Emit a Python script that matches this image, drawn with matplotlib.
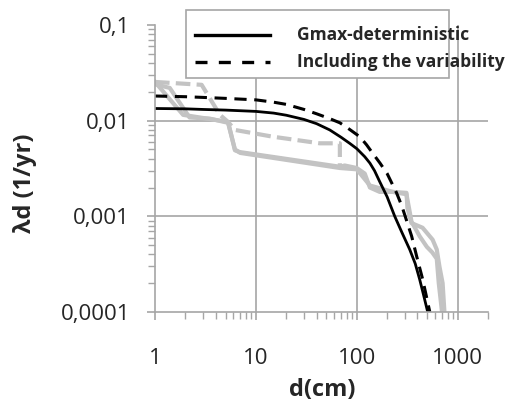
import matplotlib
matplotlib.use("Agg")
import matplotlib.pyplot as plt
from matplotlib.patches import Rectangle
from matplotlib.lines import Line2D
from matplotlib.ticker import LogLocator, FixedLocator, FixedFormatter, NullFormatter

plt.rcParams['font.family'] = ['Open Sans', 'DejaVu Sans']

# deterministic Gmax hazard curve
det_d = [1, 2, 3, 5, 10, 15, 20, 30, 40, 54, 70, 85, 100, 120, 135, 150, 169,
         200, 238, 280, 335, 380, 420, 460, 505]
det_lam = [0.0134, 0.0133, 0.0131, 0.0129, 0.0125, 0.0120, 0.0114, 0.0103,
           0.0093, 0.0080, 0.0067, 0.0058, 0.0051, 0.0042, 0.0036, 0.0030,
           0.0023, 0.0016, 0.0010, 0.00068, 0.00045, 0.00032, 0.00022,
           0.00015, 0.0001]

# including the variability
var_d = [1, 2, 3, 5, 10, 15, 20, 30, 40, 54, 68, 85, 107, 125, 143, 170, 200,
         248, 280, 311, 350, 393, 450, 530]
var_lam = [0.0181, 0.0178, 0.0175, 0.0171, 0.0165, 0.0156, 0.0148, 0.0131,
           0.0118, 0.0105, 0.0095, 0.0081, 0.0068, 0.0056, 0.0046, 0.0036,
           0.0028, 0.00176, 0.00128, 0.00091, 0.00062, 0.00038, 0.00022, 0.0001]

# grey reference curves
grey1_d = [1, 1.9, 3.5, 5.3, 6.2, 6.9, 68, 76, 100, 120, 135, 169, 228, 311,
           318, 349, 449, 565, 621, 660, 710, 740]
grey1_lam = [0.0254, 0.0115, 0.0104, 0.0097, 0.0049, 0.0047, 0.0033, 0.0034,
             0.0032, 0.0028, 0.0020, 0.0018, 0.0018, 0.00176, 0.00122, 0.00085,
             0.00076, 0.00057, 0.00045, 0.0003, 0.0002, 0.0001]
grey2_d = [1, 1.4, 2.2, 3.5, 5.3, 6.2, 7, 68, 100, 135, 228, 311, 349, 420,
           495, 560, 621, 650, 700]
grey2_lam = [0.024, 0.022, 0.0108, 0.0105, 0.0095, 0.0050, 0.0046, 0.0032,
             0.0031, 0.0021, 0.0018, 0.0017, 0.00088, 0.00062, 0.00048,
             0.00042, 0.00036, 0.0002, 0.0001]
grey3_d = [1, 2.9, 4.4, 5.3, 6.2, 14.7, 43, 68, 68]
grey3_lam = [0.0254, 0.0237, 0.0115, 0.0097, 0.0080, 0.0068, 0.0058, 0.0058, 0.0033]

legend_labels = ['Gmax-deterministic', 'Including the variability']
ytick_vals = [0.0001, 0.001, 0.01, 0.1]
ytick_labels = ['0,0001', '0,001', '0,01', '0,1']
xtick_vals = [1, 10, 100, 1000]
xtick_labels = ['1', '10', '100', '1000']
hgrid_vals = [0.001, 0.01]
vgrid_vals = [10, 100, 1000]

grey = '#c3c3c3'
axcol = '#a6a6a6'
txt = '#262626'

fig = plt.figure(figsize=(5.25, 4.03), dpi=100)
ax = fig.add_axes([155/525, 1-312/403, (488-155)/525, (312-25)/403])

for v in vgrid_vals:
    ax.axvline(v, color=axcol, lw=1.2, zorder=0)
for v in hgrid_vals:
    ax.axhline(v, color=axcol, lw=1.2, zorder=0)

ax.plot(grey1_d, grey1_lam, color=grey, lw=3, solid_joinstyle='round')
ax.plot(grey2_d, grey2_lam, color=grey, lw=3, solid_joinstyle='round')
ax.plot(grey3_d, grey3_lam, color=grey, lw=3, dashes=(3.5, 1.5))
ax.plot(det_d, det_lam, color='black', lw=2.0)
ax.plot(var_d, var_lam, color='black', lw=2.2, dashes=(4, 2.5))

ax.set_xscale('log')
ax.set_yscale('log')
ax.set_xlim(1, 2000)
ax.set_ylim(0.0001, 0.1)

ax.xaxis.set_major_locator(FixedLocator(xtick_vals))
ax.xaxis.set_major_formatter(FixedFormatter(xtick_labels))
ax.yaxis.set_major_locator(FixedLocator(ytick_vals))
ax.yaxis.set_major_formatter(FixedFormatter(ytick_labels))
ax.xaxis.set_minor_locator(LogLocator(base=10, subs=range(2, 10)))
ax.yaxis.set_minor_locator(LogLocator(base=10, subs=range(2, 10)))
ax.xaxis.set_minor_formatter(NullFormatter())
ax.yaxis.set_minor_formatter(NullFormatter())

for s in ['top', 'right']:
    ax.spines[s].set_visible(False)
for s in ['left', 'bottom']:
    ax.spines[s].set_color(axcol)
    ax.spines[s].set_linewidth(1.2)

ax.tick_params(which='major', direction='out', length=6, width=1.2, color=axcol,
               labelsize=16, labelcolor=txt)
ax.tick_params(which='minor', direction='out', length=5, width=1.0, color=axcol)
ax.tick_params(axis='x', which='major', pad=20)
ax.tick_params(axis='y', which='major', pad=12)

ax.set_xlabel('d(cm)', fontsize=17, fontweight='bold', color=txt)
ax.set_ylabel('λd (1/yr)', fontsize=17, fontweight='bold', color=txt)
ax.xaxis.set_label_coords((322-155)/333, -(390-312)/287, transform=ax.transAxes)
ax.yaxis.set_label_coords(-(155-25)/333, (312-183)/287, transform=ax.transAxes)
ax.xaxis.label.set_va('center')
ax.yaxis.label.set_va('center')

# legend box, cut by the right edge as in the original
fig.patches.append(Rectangle((186/525, 1-78/403), 0.5, 68/403, transform=fig.transFigure,
                             facecolor='white', edgecolor=axcol, lw=1.2, zorder=5))
fig.lines.append(Line2D([195/525, 270/525], [1-35/403, 1-35/403], transform=fig.transFigure,
                        color='black', lw=2.4, zorder=6))
fig.lines.append(Line2D([195/525, 270/525], [1-62/403, 1-62/403], transform=fig.transFigure,
                        color='black', lw=2.4, dashes=(3.6, 3.4), zorder=6))
fig.text(297/525, 1-35/403, legend_labels[0], fontsize=12.5, fontweight='bold',
         va='center', ha='left', color=txt, zorder=7)
fig.text(297/525, 1-62/403, legend_labels[1], fontsize=12.5, fontweight='bold',
         va='center', ha='left', color=txt, zorder=7)

fig.savefig('out.png', dpi=100, facecolor='white')
